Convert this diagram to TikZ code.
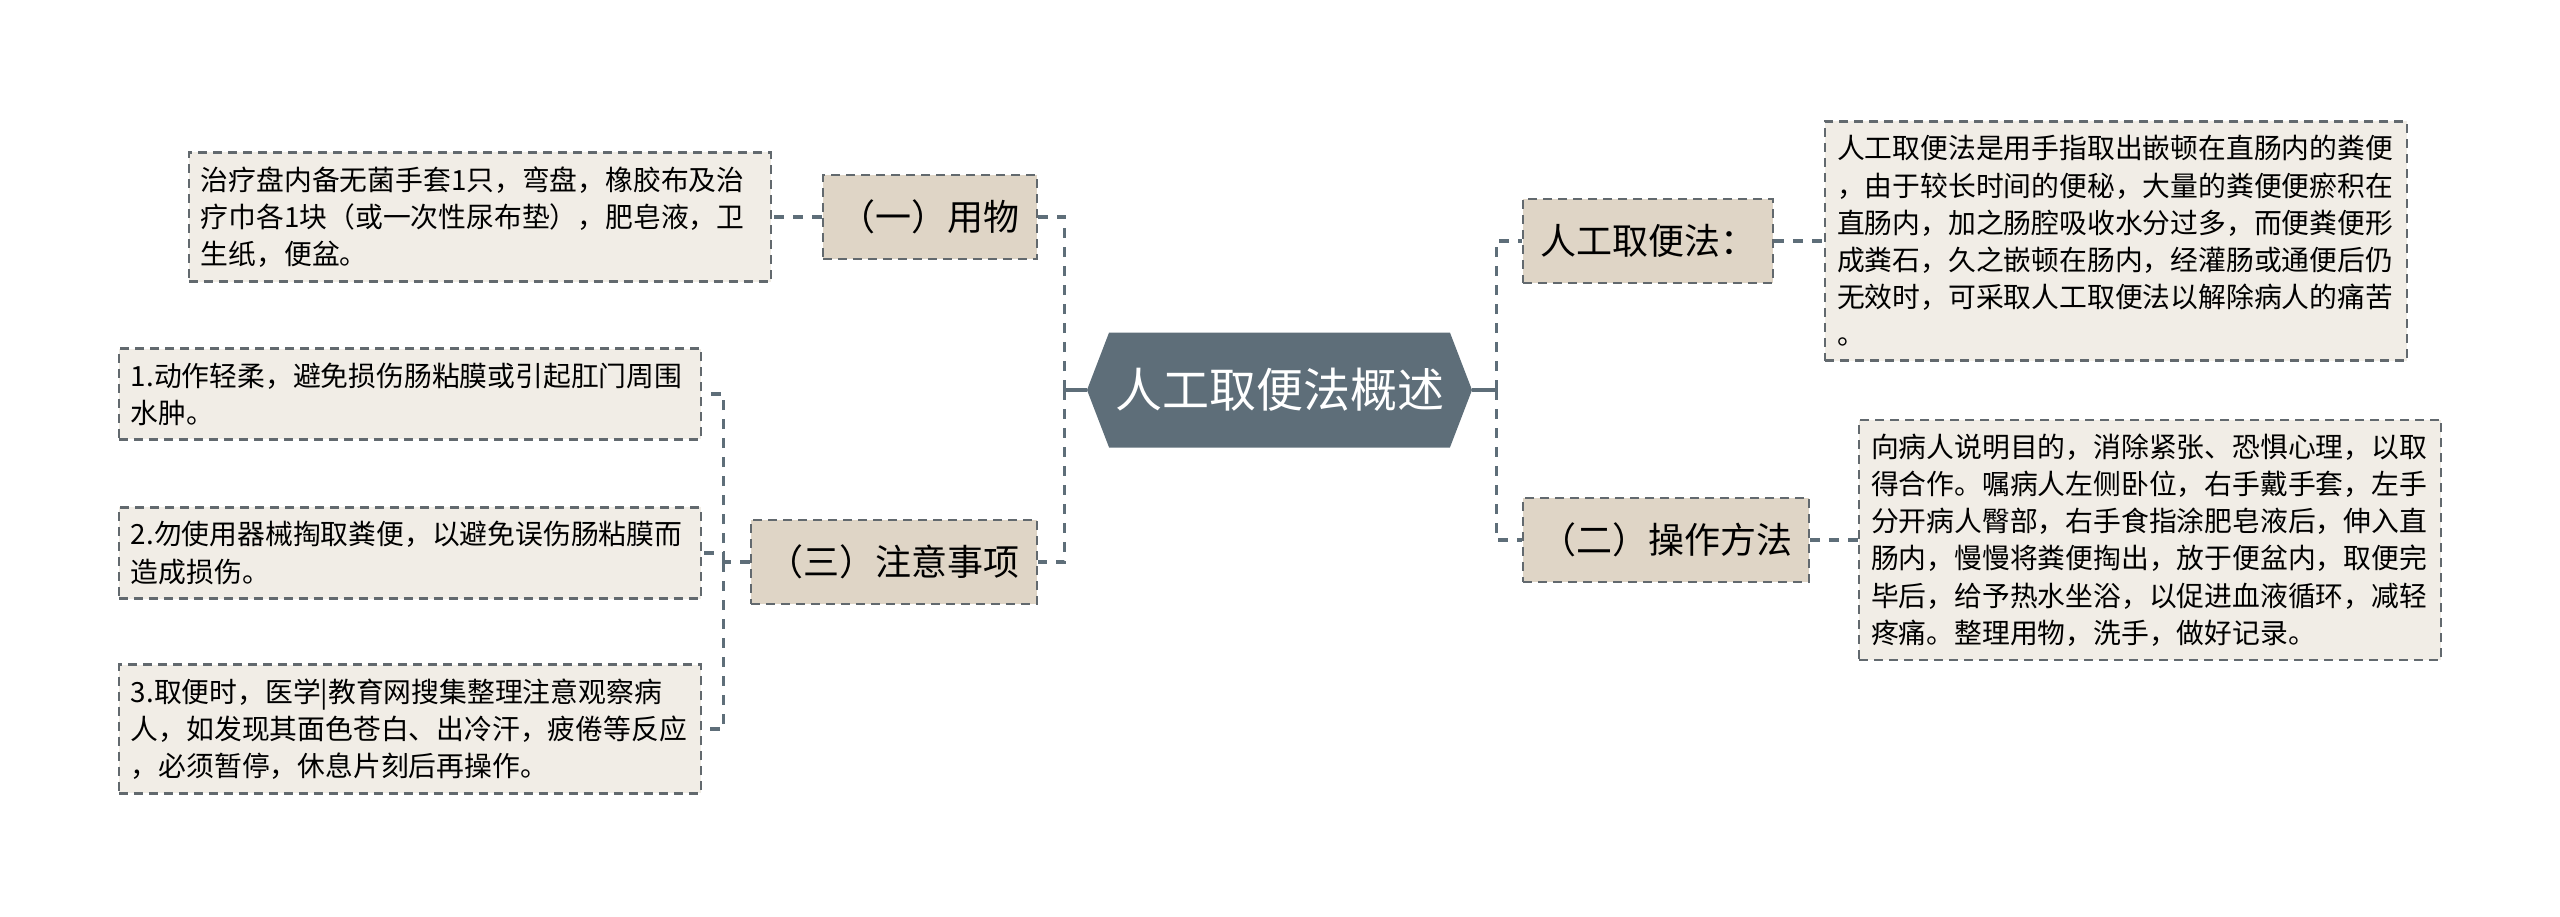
\documentclass[tikz,border=0pt]{standalone}
\usepackage{fontspec}
\setmainfont{Noto Sans CJK SC}
\usetikzlibrary{positioning,shapes.symbols}
\definecolor{slate}{HTML}{5E6E79}
\definecolor{sand}{HTML}{DFD5C6}
\definecolor{paper}{HTML}{F1EDE6}
\definecolor{edge}{HTML}{62696E}

\begin{document}
\begin{tikzpicture}[x=0.5pt,y=-0.5pt,
  root/.style={signal,signal to=west and east,signal pointer angle=138,fill=slate,text=white,
    font=\fontsize{23.5pt}{28pt}\selectfont,minimum width=192.5pt,minimum height=57.5pt,inner sep=0pt},
  topic/.style={fill=sand,draw=edge,line width=1.1pt,dash pattern=on 4.5pt off 3pt,
    font=\fontsize{18pt}{22pt}\selectfont,inner xsep=8.5pt,minimum height=42pt},
  leaf/.style={fill=paper,draw=edge,line width=1.1pt,dash pattern=on 4.5pt off 3pt,
    font=\fontsize{13.9pt}{18.6pt}\selectfont,text width=279pt,align=left,inner xsep=6pt,inner ysep=7pt},
  trunk/.style={draw=slate,line width=1.6pt},
  link/.style={trunk,dash pattern=on 5pt off 4.5pt}]
  \useasboundingbox (0,0) rectangle (2560,916);
  \node[root] (root) at (1279.5,390) {人工取便法概述};
  \node[topic,anchor=east] (yongwu) at (1038,217) {（一）用物};
  \node[topic,anchor=east] (zhuyi) at (1038,562) {（三）注意事项};
  \node[topic,anchor=west] (rengong) at (1522,241) {人工取便法：};
  \node[topic,anchor=west] (caozuo) at (1522,540) {（二）操作方法};
  \node[leaf,anchor=east] (qixie) at (772,217) {治疗盘内备无菌手套1只，弯盘，橡胶布及治\\疗巾各1块（或一次性尿布垫），肥皂液，卫\\生纸，便盆。};
  \node[leaf,anchor=east] (zhu1) at (702,394) {1.动作轻柔，避免损伤肠粘膜或引起肛门周围\\水肿。};
  \node[leaf,anchor=east] (zhu2) at (702,553) {2.勿使用器械掏取粪便，以避免误伤肠粘膜而\\造成损伤。};
  \node[leaf,anchor=east] (zhu3) at (702,729) {3.取便时，医学|教育网搜集整理注意观察病\\人，如发现其面色苍白、出冷汗，疲倦等反应\\，必须暂停，休息片刻后再操作。};
  \node[leaf,anchor=west] (dingyi) at (1824,241) {人工取便法是用手指取出嵌顿在直肠内的粪便\\，由于较长时间的便秘，大量的粪便便瘀积在\\直肠内，加之肠腔吸收水分过多，而便粪便形\\成粪石，久之嵌顿在肠内，经灌肠或通便后仍\\无效时，可采取人工取便法以解除病人的痛苦\\。};
  \node[leaf,anchor=west] (fangfa) at (1858,540) {向病人说明目的，消除紧张、恐惧心理，以取\\得合作。嘱病人左侧卧位，右手戴手套，左手\\分开病人臀部，右手食指涂肥皂液后，伸入直\\肠内，慢慢将粪便掏出，放于便盆内，取便完\\毕后，给予热水坐浴，以促进血液循环，减轻\\疼痛。整理用物，洗手，做好记录。};
  \draw[trunk] (root.west) -- ++(-22,0) coordinate (lhub);
  \draw[link] (lhub) |- (yongwu.east);
  \draw[link] (lhub) |- (zhuyi.east);
  \draw[trunk] (root.east) -- ++(24,0) coordinate (rhub);
  \draw[link] (rhub) |- (rengong.west);
  \draw[link] (rhub) |- (caozuo.west);
  \draw[link] (yongwu.west) -- (qixie.east);
  \draw[link] (zhuyi.west) -- ++(-26,0) coordinate (zhub);
  \foreach \n in {zhu1,zhu2,zhu3}
    \draw[link] (zhub) |- (\n.east);
  \draw[link] (rengong.east) -- (dingyi.west);
  \draw[link] (caozuo.east) -- (fangfa.west);
\end{tikzpicture}
\end{document}
